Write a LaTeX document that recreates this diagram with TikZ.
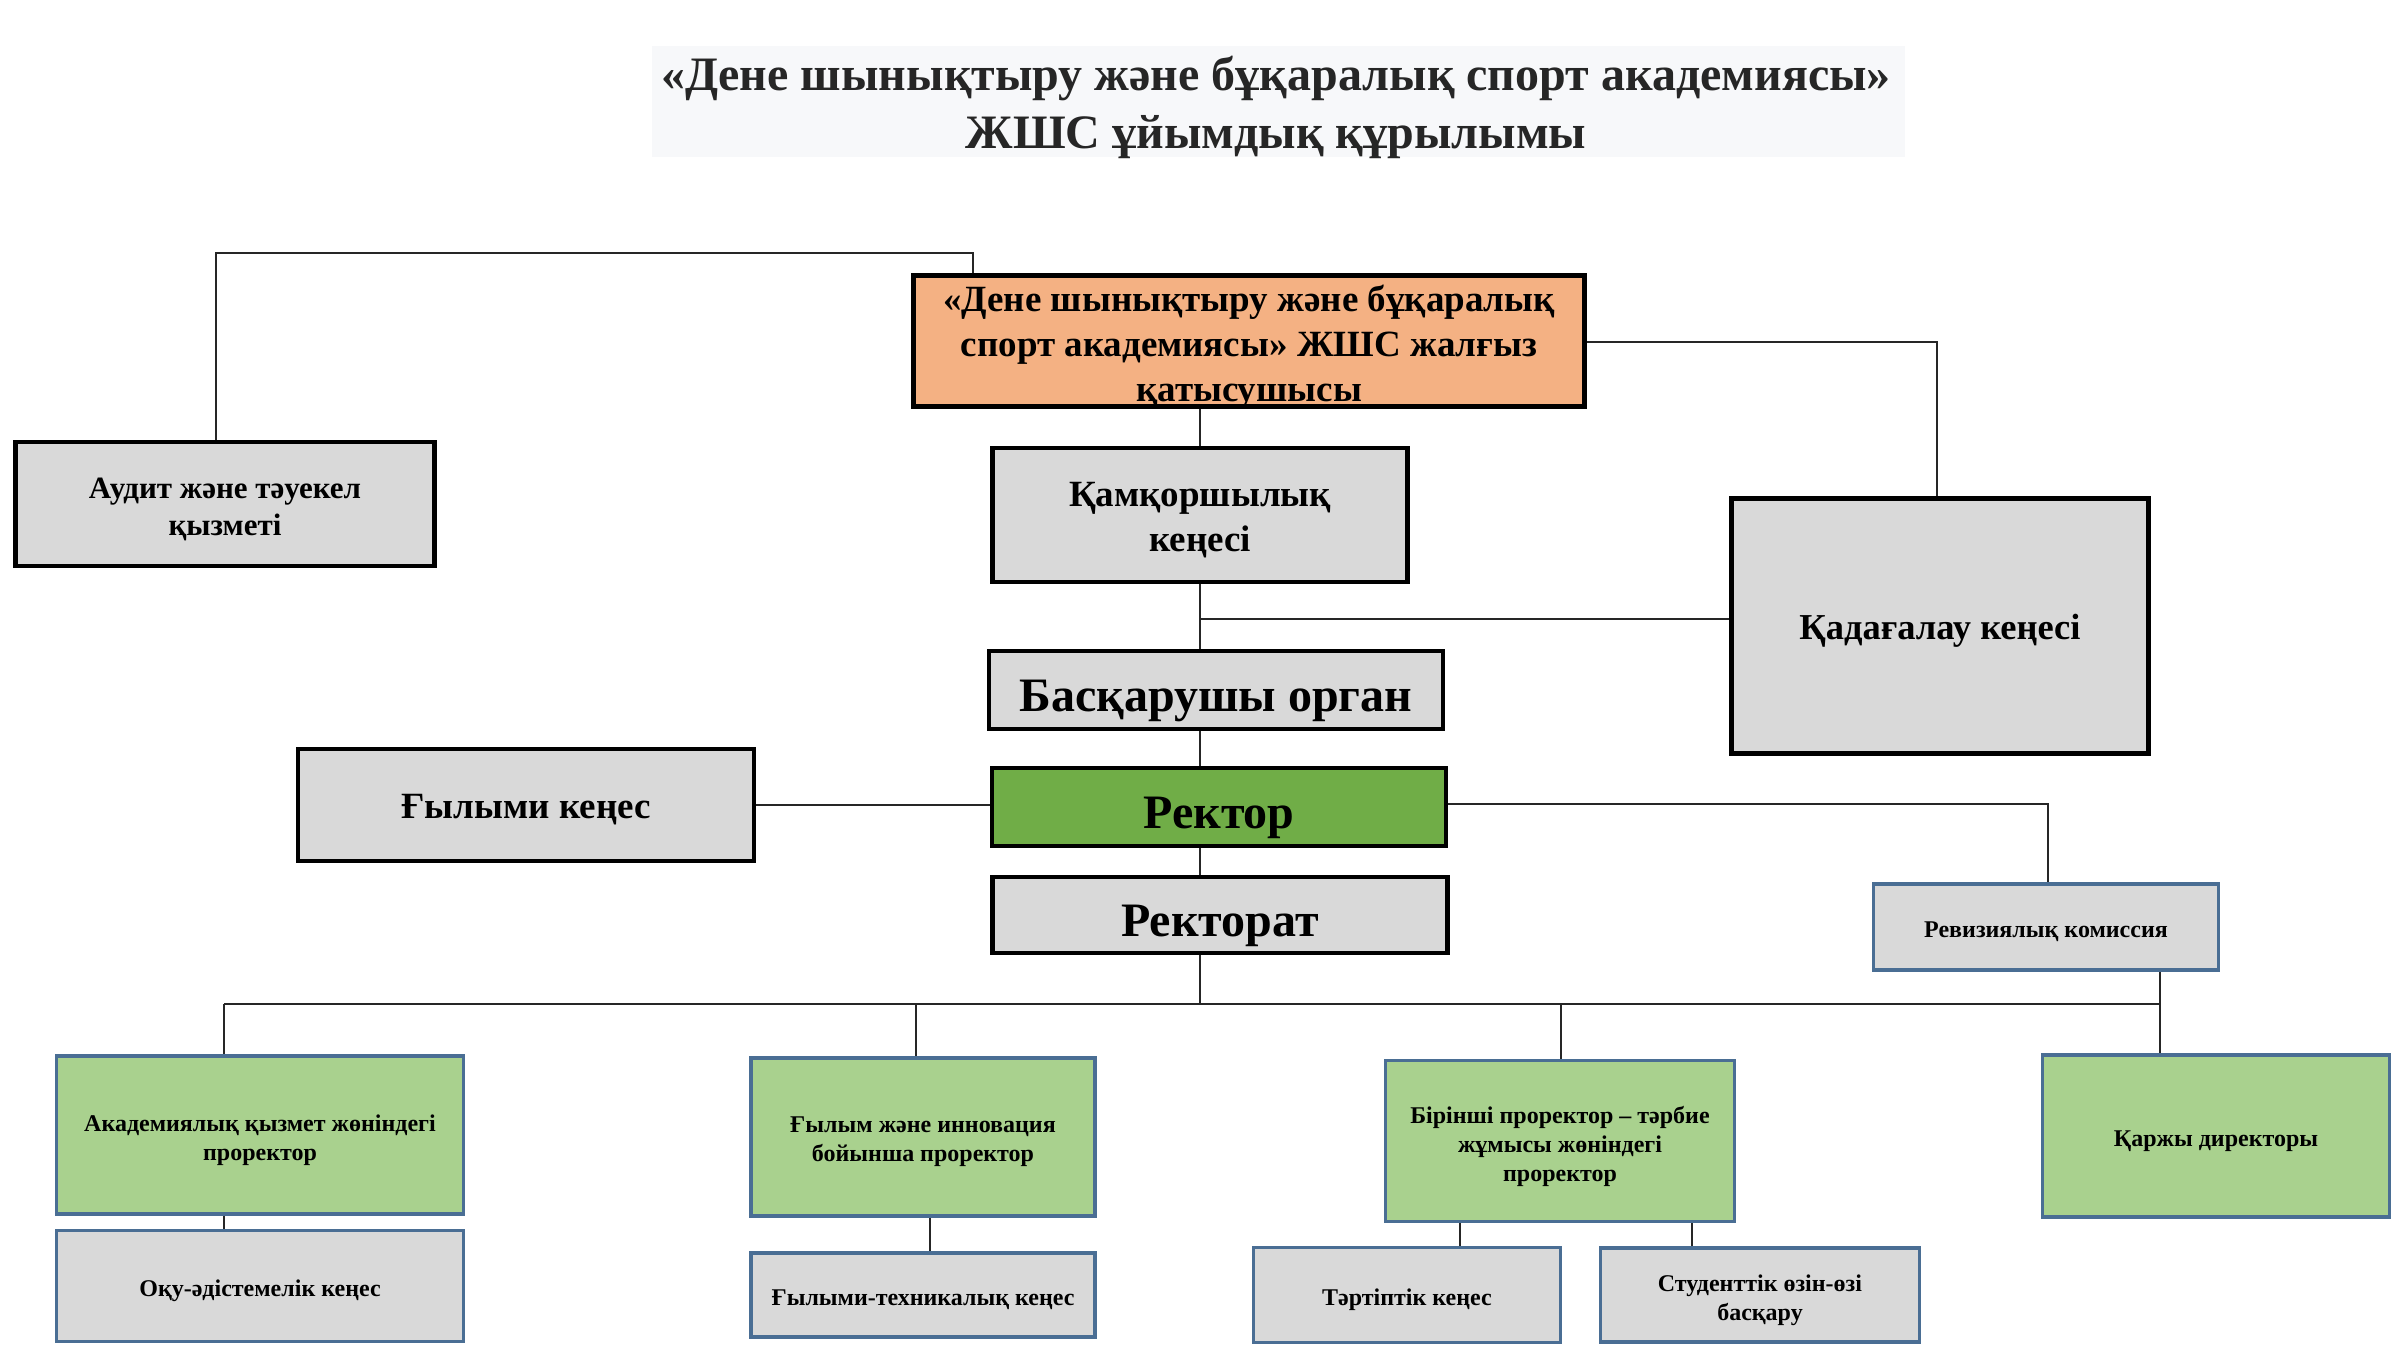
\documentclass[tikz,border=0pt]{standalone}
\usepackage{fontspec}
\setmainfont{Liberation Serif}
\definecolor{greyf}{HTML}{D9D9D9}
\definecolor{orangef}{HTML}{F4B183}
\definecolor{greenf}{HTML}{70AD47}
\definecolor{lgreenf}{HTML}{A9D18E}
\definecolor{bluec}{HTML}{4A6E94}
\definecolor{titlebg}{HTML}{F7F8FA}
\tikzset{
  blk/.style={draw=black, line width=4.5pt, fill=greyf, inner sep=0pt},
  blu/.style={draw=bluec, line width=3.5pt, fill=greyf, inner sep=0pt},
  lbl/.style={align=center, inner sep=0pt, yshift=-5pt},
  big/.style={lbl, font=\fontsize{48}{56}\selectfont\bfseries, yshift=-5.5pt},
  sml/.style={lbl, font=\fontsize{24}{29}\selectfont\bfseries},
  conn/.style={line width=1.5pt, draw=black!85},
}
\begin{document}
\begin{tikzpicture}[x=1pt,y=-1pt]
\useasboundingbox (0,0) rectangle (2407,1365);
% title
\fill[titlebg] (652,46) rectangle (1905,157);
\node[align=center, font=\fontsize{48}{58}\selectfont\bfseries, text=black!85] (title) at (1276,107)
  {«Дене шынықтыру және бұқаралық спорт академиясы»\\ЖШС ұйымдық құрылымы};

% top level
\node[blk, fill=orangef, minimum width=671pt, minimum height=131pt,
  label={[lbl, yshift=-1pt, font=\fontsize{37}{45}\selectfont\bfseries]center:{«Дене шынықтыру және бұқаралық\\спорт академиясы» ЖШС жалғыз\\қатысушысы}}] (orange) at (1249,341) {};
\node[blk, minimum width=419pt, minimum height=124pt,
  label={[lbl, font=\fontsize{31}{37}\selectfont\bfseries]center:{Аудит және тәуекел\\қызметі}}] (audit) at (225,504) {};
\node[blk, minimum width=415pt, minimum height=134pt,
  label={[lbl, yshift=-0.5pt, font=\fontsize{37}{45}\selectfont\bfseries]center:{Қамқоршылық\\кеңесі}}] (kamk) at (1200,515) {};
\node[blk, minimum width=417pt, minimum height=255pt,
  label={[lbl, font=\fontsize{36.5}{43}\selectfont\bfseries]center:{Қадағалау кеңесі}}] (kadag) at (1940,626) {};
\node[blk, minimum width=454pt, minimum height=78pt,
  label={[big]center:{Басқарушы орган}}] (bask) at (1216,690) {};
\node[blk, fill=greenf, minimum width=454pt, minimum height=78pt,
  label={[big]center:{Ректор}}] (rektor) at (1219,807) {};
\node[blk, minimum width=456pt, minimum height=112pt,
  label={[lbl, font=\fontsize{37}{44}\selectfont\bfseries]center:{Ғылыми кеңес}}] (gylymi) at (526,805) {};
\node[blk, minimum width=455pt, minimum height=76pt,
  label={[big, yshift=-0.5pt]center:{Ректорат}}] (rektorat) at (1220,915) {};
\node[blu, minimum width=345pt, minimum height=86pt,
  label={[sml]center:{Ревизиялық комиссия}}] (reviz) at (2046,927) {};

% lower level
\node[blu, fill=lgreenf, minimum width=407pt, minimum height=158pt,
  label={[sml]center:{Академиялық қызмет жөніндегі\\проректор}}] (akad) at (260,1135) {};
\node[blu, fill=lgreenf, minimum width=344pt, minimum height=158pt,
  label={[sml]center:{Ғылым және инновация\\бойынша проректор}}] (gylym) at (923,1137) {};
\node[blu, fill=lgreenf, minimum width=349pt, minimum height=161pt,
  label={[sml]center:{Бірінші проректор – тәрбие\\жұмысы жөніндегі\\проректор}}] (birinshi) at (1560,1141) {};
\node[blu, fill=lgreenf, minimum width=347pt, minimum height=162pt,
  label={[sml]center:{Қаржы директоры}}] (karzhy) at (2216,1136) {};
\node[blu, minimum width=407pt, minimum height=111pt,
  label={[sml]center:{Оқу-әдістемелік кеңес}}] (oku) at (260,1286) {};
\node[blu, minimum width=344pt, minimum height=84pt,
  label={[sml]center:{Ғылыми-техникалық кеңес}}] (gtex) at (923,1295) {};
\node[blu, minimum width=307pt, minimum height=95pt,
  label={[sml]center:{Тәртіптік кеңес}}] (tartip) at (1407,1295) {};
\node[blu, minimum width=319pt, minimum height=94pt,
  label={[sml]center:{Студенттік өзін-өзі\\басқару}}] (stud) at (1760,1295) {};

% connector points
\coordinate (c1) at (973,253);
\coordinate (c2) at (216,253);
\coordinate (c3) at (1937,342);
\coordinate (j1) at (1200,619);
\coordinate (c4) at (2048,804);
\coordinate (busA) at (224,1004);
\coordinate (busB) at (916,1004);
\coordinate (busC) at (1200,1004);
\coordinate (busD) at (1561,1004);
\coordinate (busE) at (2160,1004);
\coordinate (d1) at (930,0);
\coordinate (d2) at (1460,0);
\coordinate (d3) at (1692,0);

% connectors
\draw[conn] (orange.north -| c1) -- (c1) -- (c2) -- (audit.north -| c2);
\draw[conn] (orange.east |- c3) -- (c3) -- (kadag.north -| c3);
\draw[conn] (orange.south -| kamk.north) -- (kamk.north);
\draw[conn] (kamk.south) -- (bask.north -| kamk.south);
\draw[conn] (j1) -- (kadag.west |- j1);
\draw[conn] (bask.south -| kamk.south) -- (rektor.north -| kamk.south);
\draw[conn] (gylymi.east) -- (rektor.west |- gylymi.east);
\draw[conn] (rektor.east |- c4) -- (c4) -- (reviz.north -| c4);
\draw[conn] (rektor.south -| kamk.south) -- (rektorat.north -| kamk.south);
\draw[conn] (rektorat.south -| busC) -- (busC);
\draw[conn] (busA) -- (busE);
\draw[conn] (busA) -- (akad.north -| busA);
\draw[conn] (busB) -- (gylym.north -| busB);
\draw[conn] (busD) -- (birinshi.north -| busD);
\draw[conn] (reviz.south -| busE) -- (busE) -- (karzhy.north -| busE);
\draw[conn] (akad.south -| busA) -- (oku.north -| busA);
\draw[conn] (gylym.south -| d1) -- (gtex.north -| d1);
\draw[conn] (birinshi.south -| d2) -- (tartip.north -| d2);
\draw[conn] (birinshi.south -| d3) -- (stud.north -| d3);
\end{tikzpicture}
\end{document}
